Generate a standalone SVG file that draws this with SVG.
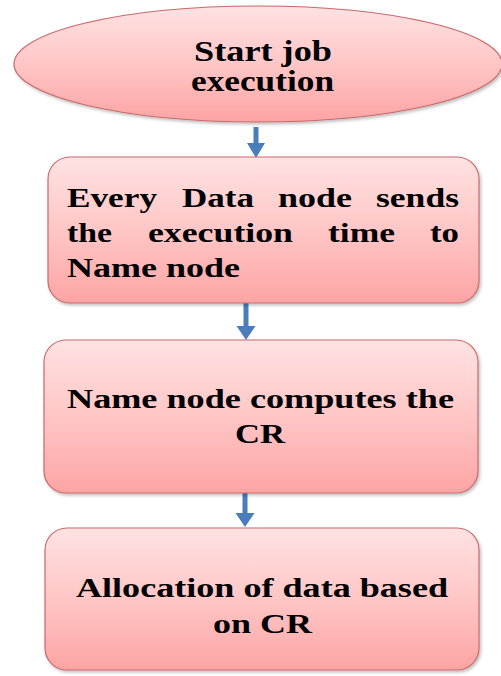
<svg xmlns="http://www.w3.org/2000/svg" width="501" height="676" viewBox="0 0 501 676">
  <style>
    .shape { fill: url(#pinkFill); stroke: #c9696a; stroke-width: 1.2; filter: url(#softShadow); }
    .label { font-family: "Liberation Serif", "Times New Roman", serif; font-weight: bold; font-size: 27px; fill: #000; }
    .big { font-size: 29px; }
    .flow { fill: #4a7ebb; }
  </style>
  <defs>
    <linearGradient id="pinkFill" x1="0" y1="0" x2="0" y2="1">
      <stop offset="0" stop-color="#ffe2e2"/>
      <stop offset="0.5" stop-color="#ffc6c6"/>
      <stop offset="1" stop-color="#fda4a4"/>
    </linearGradient>
    <filter id="softShadow" x="-5%" y="-5%" width="112%" height="115%">
      <feDropShadow dx="1.5" dy="2" stdDeviation="1.5" flood-color="#000" flood-opacity="0.25"/>
    </filter>
  </defs>

  <rect width="501" height="676" fill="#ffffff"/>

  <!-- connectors -->
  <g id="connectors">
    <path class="flow" d="M253.5,127 H258.5 V143 H265 L256,158 L247,143 H253.5 Z"/>
    <path class="flow" d="M243.5,303 H248.5 V326 H255.5 L246,340 L236.5,326 H243.5 Z"/>
    <path class="flow" d="M242.5,493 H247.5 V513 H254.5 L245,527 L235.5,513 H242.5 Z"/>
  </g>

  <!-- start terminal -->
  <g id="start">
    <ellipse class="shape" cx="258" cy="64" rx="244" ry="58"/>
    <text class="label big" x="194" y="61" textLength="138" lengthAdjust="spacingAndGlyphs">Start job</text>
    <text class="label big" x="191" y="91" textLength="143" lengthAdjust="spacingAndGlyphs">execution</text>
  </g>

  <!-- step 1 -->
  <g id="send-times">
    <rect class="shape" x="48" y="157" width="431" height="146" rx="22" ry="22"/>
    <text class="label" x="67" y="207" textLength="90" lengthAdjust="spacingAndGlyphs">Every</text>
    <text class="label" x="182" y="207" textLength="72" lengthAdjust="spacingAndGlyphs">Data</text>
    <text class="label" x="278" y="207" textLength="74" lengthAdjust="spacingAndGlyphs">node</text>
    <text class="label" x="376" y="207" textLength="83" lengthAdjust="spacingAndGlyphs">sends</text>
    <text class="label" x="67" y="242" textLength="45" lengthAdjust="spacingAndGlyphs">the</text>
    <text class="label" x="148" y="242" textLength="145" lengthAdjust="spacingAndGlyphs">execution</text>
    <text class="label" x="328" y="242" textLength="67" lengthAdjust="spacingAndGlyphs">time</text>
    <text class="label" x="430" y="242" textLength="29" lengthAdjust="spacingAndGlyphs">to</text>
    <text class="label" x="67" y="277" textLength="173" lengthAdjust="spacingAndGlyphs">Name node</text>
  </g>

  <!-- step 2 -->
  <g id="compute-cr">
    <rect class="shape" x="44" y="340" width="434" height="153" rx="22" ry="22"/>
    <text class="label" x="67" y="408" textLength="387" lengthAdjust="spacingAndGlyphs">Name node computes the</text>
    <text class="label" x="235" y="443" textLength="50" lengthAdjust="spacingAndGlyphs">CR</text>
  </g>

  <!-- step 3 -->
  <g id="allocate">
    <rect class="shape" x="45" y="528" width="434" height="142" rx="22" ry="22"/>
    <text class="label" x="76" y="597" textLength="372" lengthAdjust="spacingAndGlyphs">Allocation of data based</text>
    <text class="label" x="213" y="633" textLength="99" lengthAdjust="spacingAndGlyphs">on CR</text>
  </g>
</svg>
